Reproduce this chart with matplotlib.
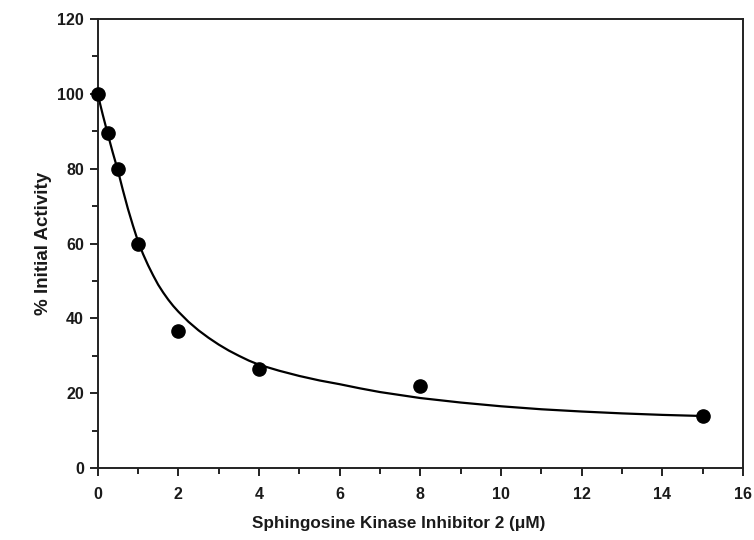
import matplotlib
matplotlib.use('Agg')
import matplotlib.pyplot as plt
from matplotlib.ticker import MultipleLocator

plt.rcParams['font.family'] = ['Liberation Sans', 'DejaVu Sans']
plt.rcParams['font.weight'] = 'bold'

# measured points
conc = [0, 0.25, 0.5, 1, 2, 4, 8, 15]
activity = [100, 89.5, 79.8, 60, 36.5, 26.4, 21.8, 14]

# fitted curve
fit_x = [0, 0.125, 0.25, 0.375, 0.5, 0.625, 0.75, 0.875, 1, 1.125, 1.25, 1.375,
         1.5, 1.625, 1.75, 1.875, 2, 2.25, 2.5, 2.75, 3, 3.25, 3.5, 3.75, 4,
         4.5, 5, 5.5, 6, 6.5, 7, 7.5, 8, 9, 10, 11, 12, 13, 14, 15]
fit_y = [100, 94.5, 89.3, 84.3, 79.6, 74.3, 69.3, 64.8, 60.6, 57.2, 54.2, 51.5,
         49.0, 46.9, 45.0, 43.3, 41.8, 39.1, 36.8, 34.8, 33.0, 31.4, 30.0, 28.7,
         27.6, 26.0, 24.6, 23.4, 22.4, 21.3, 20.3, 19.5, 18.7, 17.5, 16.5, 15.7,
         15.1, 14.6, 14.2, 13.9]

fig = plt.figure(figsize=(7.54, 5.40), dpi=100)
ax = fig.add_axes([0.1295, 0.1333, 0.856, 0.8315])

ax.plot(fit_x, fit_y, color='black', lw=1.6, clip_on=False, zorder=2)
ax.plot(conc, activity, 'o', color='black', ms=9.5, clip_on=False, zorder=3)

ax.set_xlim(0, 16)
ax.set_ylim(0, 120)
ax.xaxis.set_major_locator(MultipleLocator(2))
ax.xaxis.set_minor_locator(MultipleLocator(1))
ax.yaxis.set_major_locator(MultipleLocator(20))
ax.yaxis.set_minor_locator(MultipleLocator(10))

for s in ax.spines.values():
    s.set_linewidth(1.4)
    s.set_color('#222222')

ax.tick_params(which='both', direction='out', top=False, right=False,
               width=1.4, color='#222222', labelsize=11.5, labelcolor='#1a1a1a')
ax.tick_params(which='major', length=6)
ax.tick_params(which='minor', length=4)
ax.tick_params(axis='x', which='major', pad=8)
ax.tick_params(axis='y', which='major', pad=4)
for lab in ax.get_xticklabels() + ax.get_yticklabels():
    lab.set_fontweight('bold')

ax.set_xlabel('Sphingosine Kinase Inhibitor 2 (\u03bcM)', fontsize=12.3,
              fontweight='bold', color='#1a1a1a')
ax.set_ylabel('% Initial Activity', fontsize=13.5, fontweight='bold',
              color='#1a1a1a')
ax.xaxis.set_label_coords(0.466, -0.106)
ax.yaxis.set_label_coords(-0.071, 0.5)

fig.savefig('out.png', dpi=100)
